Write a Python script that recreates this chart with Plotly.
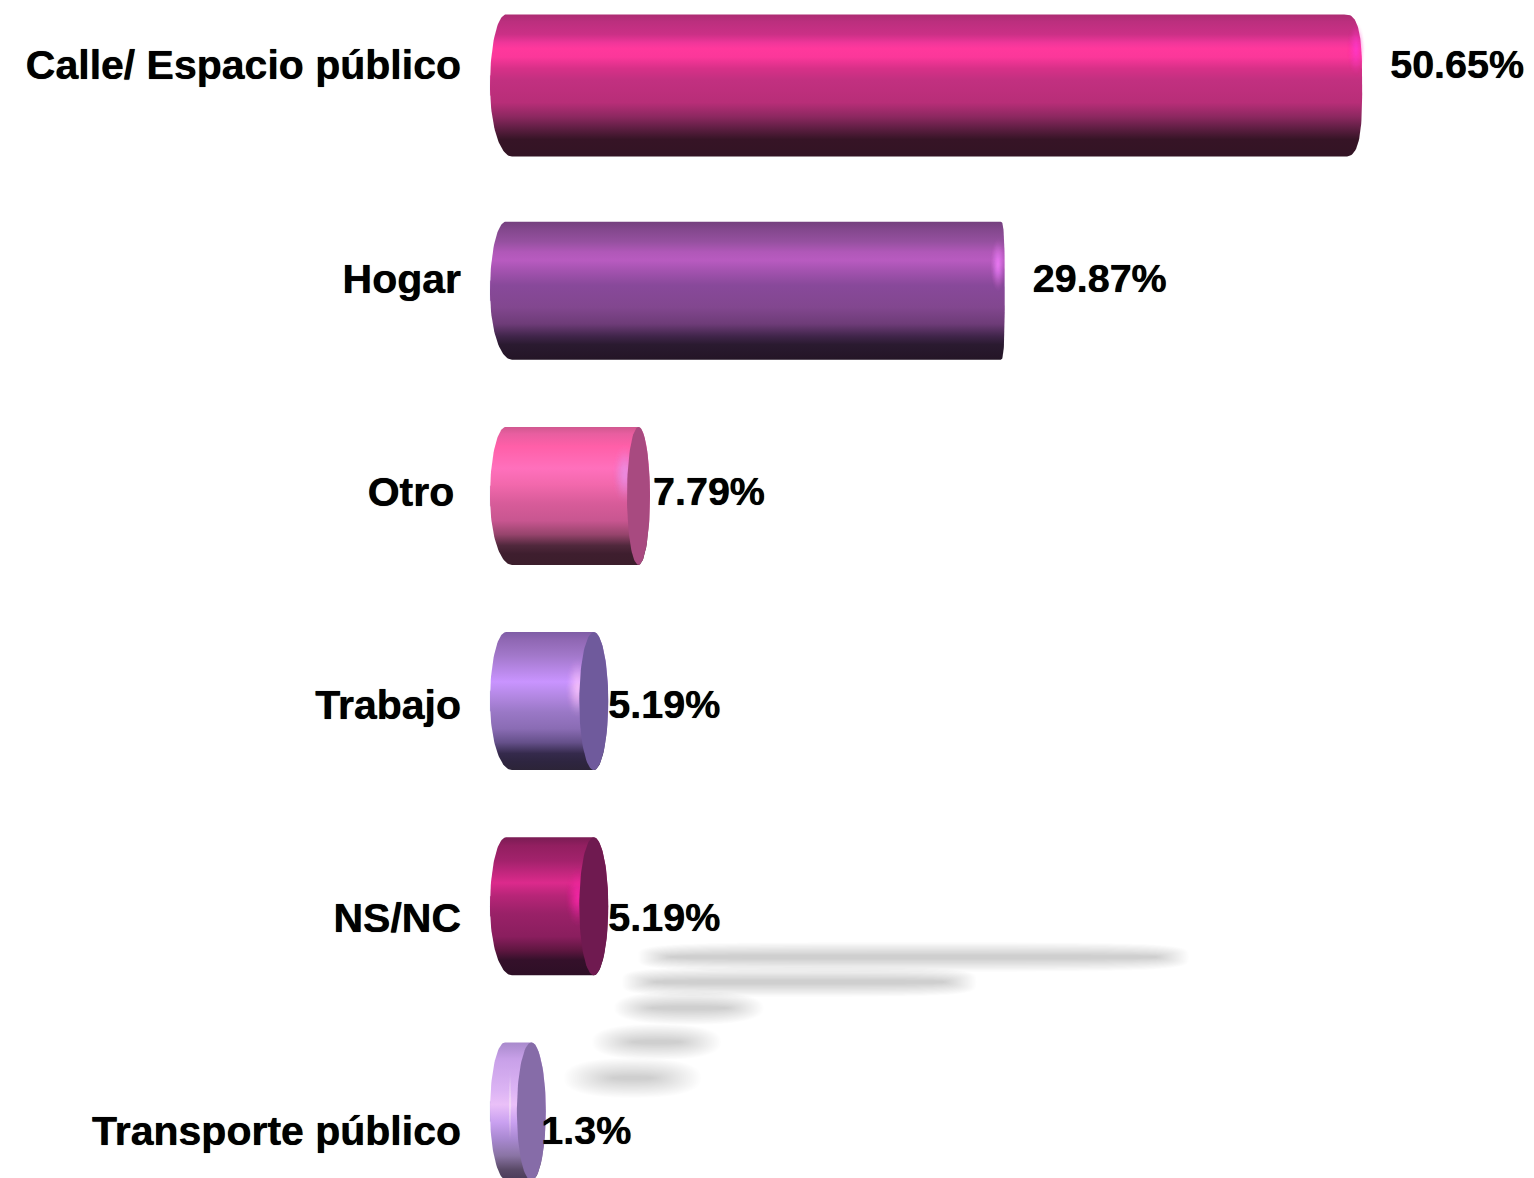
import numpy as np
import plotly.graph_objects as go

# ---- chart data ----
categories = ["Calle/ Espacio público", "Hogar", "Otro", "Trabajo", "NS/NC", "Transporte público"]
values = [50.65, 29.87, 7.79, 5.19, 5.19, 1.3]
value_labels = ["50.65%", "29.87%", "7.79%", "5.19%", "5.19%", "1.3%"]

# ---- styles ----
W, H = 1534, 1178
X0, XS = 490.0, 17.2      # pixel of zero, pixels per unit
Y0, YS = 85.5, 205.2      # bars: centre of first bar, pixels per band
LY0, LYS = 65.0, 213.2    # labels: centre of first label, pixels per band
half_h = [71, 69, 69, 69, 69, 69]

gradients = [
    [(0, "#ac2c72"), (.05, "#bb2f7e"), (.14, "#cb3086"), (.2, "#f0369a"), (.24, "#ff389c"), (.3, "#fb379a"),
     (.38, "#d83088"), (.46, "#c23080"), (.62, "#b82e78"), (.72, "#8c2860"), (.82, "#551c3c"), (.88, "#361426"), (1, "#331424")],
    [(0, "#74407e"), (.06, "#84488e"), (.14, "#94509e"), (.22, "#b058b8"), (.28, "#b85bc0"), (.36, "#a252ae"),
     (.46, "#88499a"), (.62, "#82478f"), (.74, "#6e3c78"), (.83, "#40254a"), (.89, "#2a1a30"), (1, "#241526")],
    [(0, "#d0588f"), (.05, "#e85ea0"), (.14, "#ff5fa8"), (.3, "#ff70bc"), (.42, "#f268ac"), (.55, "#d85c9a"),
     (.68, "#c85690"), (.78, "#96446c"), (.86, "#50283c"), (.92, "#3e1e2e"), (1, "#3c1e2c")],
    [(0, "#7f5da6"), (.06, "#9068b4"), (.17, "#a278ca"), (.36, "#c994ff"), (.46, "#b488e4"), (.58, "#9a78c6"),
     (.7, "#8a6cb4"), (.8, "#65508a"), (.88, "#352a4c"), (.94, "#2e2540"), (1, "#2c2438")],
    [(0, "#7a1c54"), (.06, "#921f60"), (.17, "#a3226c"), (.33, "#dc2a8c"), (.42, "#b82578"), (.55, "#9a2168"),
     (.72, "#8a1e5e"), (.82, "#5e1640"), (.89, "#34102a"), (1, "#2e0f26")],
    [(0, "#a88acc"), (.12, "#c8a0e8"), (.35, "#dcb4f4"), (.45, "#eac0f8"), (.58, "#c9a0f0"), (.7, "#a888d0"),
     (.82, "#8a74a4"), (.92, "#5a4a68"), (1, "#4a3a58")],
]
end_a = [18, 4, 11.5, 14.5, 14.5, 14.5]         # semi-width of the far end, px
end_shift = [-17, -3, 14.5, 14.5, 14.5, 19]     # far end centre relative to value, px
end_round = [3.0, 3.0, 2.0, 2.0, 2.0, 2.0]      # roundness of the far end
cap_color = [None, None, "#a84a80", "#6f5a9c", "#6f1a50", "#866ca8"]
near_top = [16, 16, 16, 16, 16, 15]
near_bot = [22, 22, 22, 22, 22, 17]
glow = [(1356, 49, 9, 27, "255,60,205"), (998, 265, 8, 27, "245,130,255"), (625, 474, 13, 30, "235,150,235"),
        (578, 688, 13, 30, "255,200,255"), (578, 897, 13, 30, "255,45,175"), (510, 1105, 2, 38, "255,235,250")]

shadow_start = [654, 638, 632, 612, 588]
shadow_y = [957, 982, 1008, 1042, 1078]
shadow_core = [6, 6, 7, 7, 8]
shadow_blur_x = [16, 16, 18, 20, 24]
shadow_blur_y = [9, 9, 10, 11, 12]


def dx(px):
    return (px - X0) / XS


def dy(px):
    return (px - Y0) / YS


fig = go.Figure()
idx = list(range(len(categories)))

fig.add_trace(go.Bar(y=idx, x=values, orientation="h", width=0.1,
                     marker=dict(color=[g[5][1] for g in gradients]), hoverinfo="skip", showlegend=False))

ts = np.sin(np.linspace(-np.pi / 2, np.pi / 2, 61))


def ell_points(cx, cy, a, b, n=48):
    th = np.linspace(0, 2 * np.pi, n)
    return cx + a * np.cos(th), cy + b * np.sin(th)


for i, v in enumerate(values):
    cy = Y0 + YS * i
    vx = X0 + XS * v
    cx = vx + end_shift[i]
    a = end_a[i]
    hh = half_h[i]
    p = end_round[i]
    left = X0 + np.where(ts < 0, near_top[i], near_bot[i]) * (1 - np.sqrt(1 - ts ** 2))
    right = cx + a * (1 - np.abs(ts) ** p) ** (1 / p)
    xs = np.concatenate([right, left[::-1], right[:1]])
    ys = np.concatenate([cy + ts * hh, (cy + ts * hh)[::-1], [cy - hh]])
    fig.add_trace(go.Scatter(
        x=dx(xs), y=dy(ys), mode="lines", line=dict(width=0), fill="toself",
        fillgradient=dict(type="vertical", start=dy(cy - hh), stop=dy(cy + hh),
                          colorscale=[[s, c] for s, c in gradients[i]]),
        hoverinfo="skip", showlegend=False))
    # highlight where the light catches the bar end
    gx, gy, ga, gb, rgb = glow[i]
    for k in range(22):
        f = 1 - k / 22
        ex, ey = ell_points(gx, gy, ga * f, gb * f)
        fig.add_trace(go.Scatter(x=dx(ex), y=dy(ey), mode="lines", line=dict(width=0), fill="toself",
                                 fillcolor=f"rgba({rgb},{0.015 + 0.006 * k:.3f})", hoverinfo="skip", showlegend=False))
    # visible end face
    if cap_color[i]:
        ex, ey = ell_points(cx, cy, a, hh, 90)
        fig.add_trace(go.Scatter(x=dx(ex), y=dy(ey), mode="lines", line=dict(width=0), fill="toself",
                                 fillcolor=cap_color[i], hoverinfo="skip", showlegend=False))

# value labels, on the label axis
fig.add_trace(go.Scatter(
    x=[v + 29 / XS for v in values], y=[k + 3.5 / LYS for k in idx], yaxis="y2", mode="text", text=value_labels,
    textposition="middle right", cliponaxis=False,
    textfont=dict(family="Liberation Sans", size=39.5, color="#000000", weight=700, shadow="0 0 0.7px #000000"),
    hoverinfo="skip", showlegend=False))

# blurred floor shadows
shapes = []
LAYERS = 24
for i, st in enumerate(shadow_start):
    x1 = st + values[i] * XS * 0.55 + 40
    mx, half_w = (st + x1) / 2, (x1 - st) / 2
    e = 0.45 if half_w > 100 else 0.8
    bx, by = shadow_blur_x[i], shadow_blur_y[i]
    for k in range(LAYERS):
        f = k / (LAYERS - 1)
        th = np.linspace(0, 2 * np.pi, 72)
        a = half_w + bx - 2 * bx * f
        b = shadow_core[i] + by - (shadow_core[i] + by - 2) * f
        ex = mx + a * np.sign(np.cos(th)) * np.abs(np.cos(th)) ** e
        ey = shadow_y[i] + b * np.sign(np.sin(th)) * np.abs(np.sin(th)) ** e
        path = "M" + "L".join(f"{dx(u):.4f},{dy(w):.4f}" for u, w in zip(ex, ey)) + "Z"
        shapes.append(dict(type="path", path=path, xref="x", yref="y", layer="below",
                           fillcolor="rgba(0,0,0,0.0095)", line=dict(width=0)))

fig.update_layout(
    width=W, height=H, margin=dict(l=0, r=0, t=0, b=0), showlegend=False,
    paper_bgcolor="#ffffff", plot_bgcolor="rgba(0,0,0,0)", barmode="overlay", shapes=shapes,
    xaxis=dict(range=[dx(0), dx(W)], visible=False, fixedrange=True),
    yaxis=dict(range=[dy(H), dy(0)], visible=False, fixedrange=True),
    yaxis2=dict(
        overlaying="y", anchor="free", position=461 / W, side="left",
        range=[(H - LY0) / LYS, -LY0 / LYS], tickmode="array", tickvals=idx,
        ticktext=[c + "\u2006" if c == "Otro" else c for c in categories],
        ticks="", ticklen=0, showline=False, showgrid=False, zeroline=False, fixedrange=True,
        tickfont=dict(family="Liberation Sans", size=41, color="#000000", weight=700, shadow="0 0 0.7px #000000"),
    ),
    font=dict(family="Liberation Sans"),
)

fig.write_html("out.html", config=dict(displayModeBar=False),
               post_script="document.body.style.margin='0';")
